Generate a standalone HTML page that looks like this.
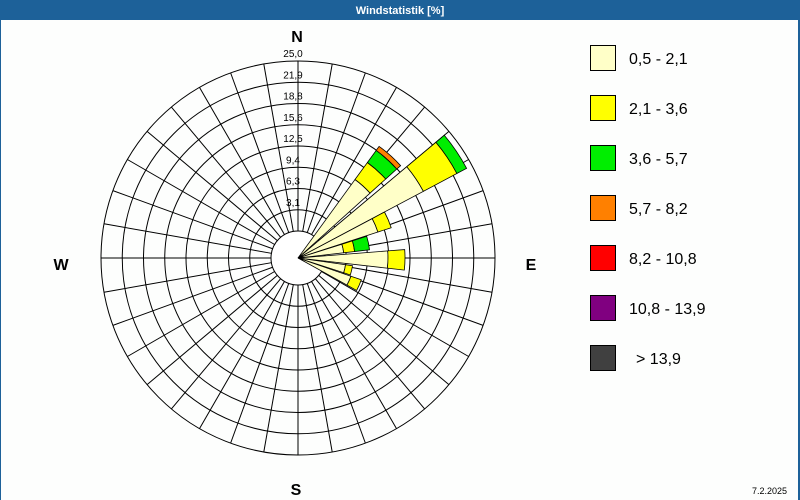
<!DOCTYPE html>
<html><head><meta charset="utf-8"><style>
body{margin:0;background:#fff}
#w{position:relative;width:800px;height:500px;overflow:hidden;font-family:"Liberation Sans",sans-serif;background:#fdfefd}
</style></head><body><div id="w">
<svg id="s" width="800" height="500" xmlns="http://www.w3.org/2000/svg">
<rect x="0" y="0" width="800" height="500" fill="#fdfefd"/>
<rect x="0" y="0" width="800" height="20" fill="#1d6199"/>
<rect x="0" y="0" width="1" height="500" fill="#1d6199"/>
<rect x="798" y="0" width="2" height="500" fill="#1d6199"/>
<text x="400" y="14" fill="#fff" font-size="11" text-anchor="middle" font-weight="bold">Windstatistik [%]</text>
<g id="grid" stroke="#000" stroke-width="1" fill="none"></g>
<circle cx="298" cy="258" r="27" fill="#fff" stroke="#000"/>
<g id="wed" stroke="#000" stroke-width="0.8"></g>
<g id="lab" font-size="10" text-anchor="middle" fill="#000"></g>
<g font-size="16" font-weight="bold" text-anchor="middle">
<text x="297" y="42">N</text><text x="531" y="270">E</text><text x="61" y="270">W</text><text x="296" y="495">S</text></g>
<g id="leg" font-size="16"></g>
<text x="752" y="494" font-size="9">7.2.2025</text>
</svg>
<script>
var cx=298,cy=258,R0=27,R=197,ns="http://www.w3.org/2000/svg";
function el(p,t,a){var e=document.createElementNS(ns,t);for(var k in a)e.setAttribute(k,a[k]);document.getElementById(p).appendChild(e);return e;}
for(var k=1;k<=8;k++){el('grid','circle',{cx:cx,cy:cy,r:R0+k*(R-R0)/8});}
for(var a=0;a<360;a+=10){var t=a*Math.PI/180;el('grid','line',{x1:cx+R0*Math.sin(t),y1:cy-R0*Math.cos(t),x2:cx+R*Math.sin(t),y2:cy-R*Math.cos(t)});}
var labs=["3,1","6,3","9,4","12,5","15,6","18,8","21,9","25,0"];
for(var k=1;k<=8;k++){var r=R0+k*(R-R0)/8;var e=el('lab','text',{x:293,y:cy-r-4});e.textContent=labs[k-1];}
var C=["#ffffc8","#ffff00","#00ee00","#ff8000","#ff0000","#800080","#404040"];
function P(a,r){var t=a*Math.PI/180;return (cx+r*Math.sin(t)).toFixed(1)+","+(cy-r*Math.cos(t)).toFixed(1);}
function wedge(c,hw,segs){var r0=0;segs.forEach(function(s,i){var r1=s;
 var d2="M"+P(c-hw,r0)+" L"+P(c-hw,r1)+" A"+r1+","+r1+" 0 0 1 "+P(c+hw,r1)+" L"+P(c+hw,r0)+(r0>0?" A"+r0+","+r0+" 0 0 0 "+P(c-hw,r0):"")+" Z";
 el('wed','path',{d:d2,fill:C[i]});r0=r1;});}
wedge(56,6,[142,180,191]);
wedge(42,6,[97,118,133,138]);
wedge(67,5,[84,98]);
wedge(78,5.5,[46,57,72]);
wedge(91,5.5,[90,107]);
wedge(103,5,[48,55]);
wedge(114,5,[56,67]);
var L=["0,5 - 2,1","2,1 - 3,6","3,6 - 5,7","5,7 - 8,2","8,2 - 10,8","10,8 - 13,9","&gt; 13,9"];
for(var i=0;i<7;i++){el('leg','rect',{x:590.5,y:45.5+i*50,width:25,height:25,fill:C[i],stroke:"#000"});var e=el('leg','text',{x:i==6?636:629,y:64+i*50});e.innerHTML=L[i];}
</script>
</div></body></html>
